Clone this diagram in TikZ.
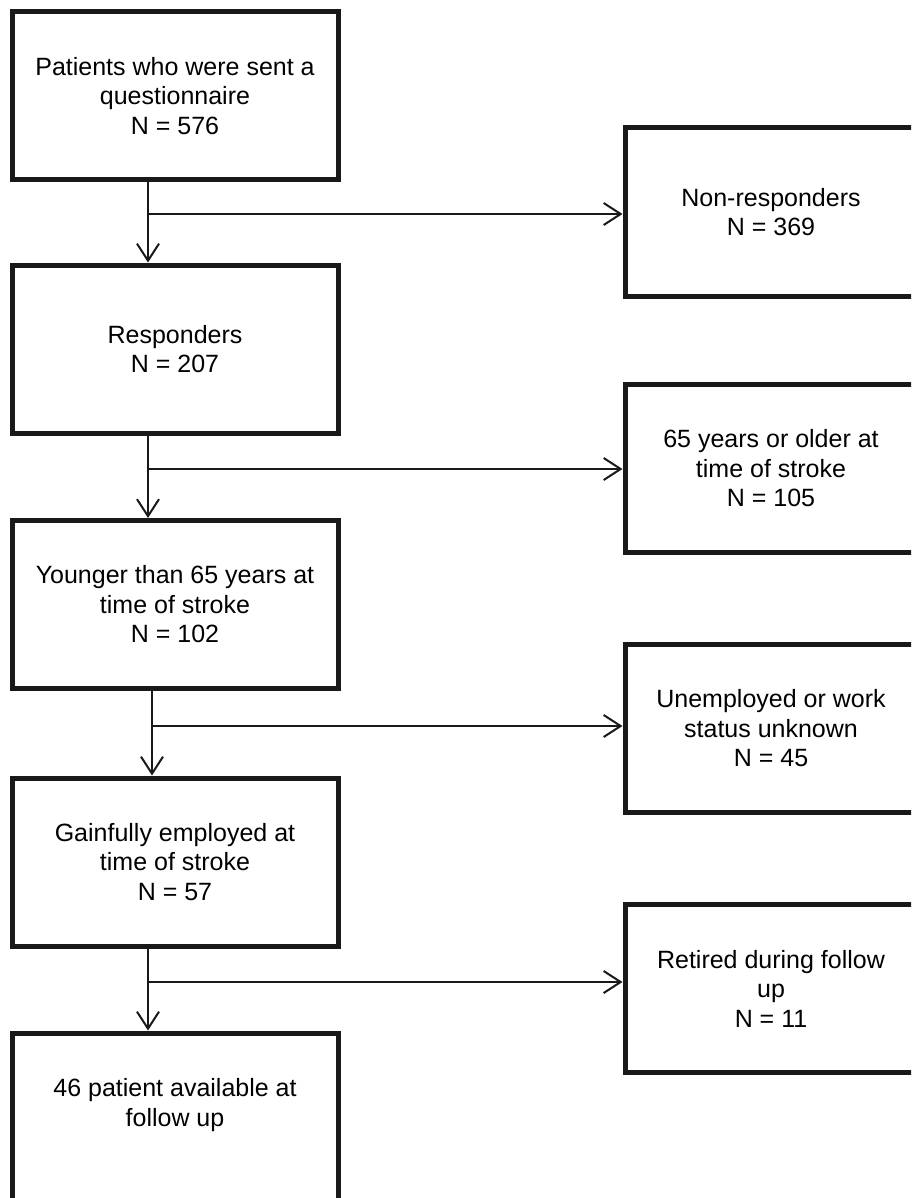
\documentclass[tikz,border=0pt]{standalone}
\usepackage{fontspec}
\setmainfont{Liberation Sans}
\usetikzlibrary{arrows.meta}
\begin{document}
\begin{tikzpicture}[x=1pt, y=-1pt, font=\fontsize{25}{29.5}\selectfont,
  box/.style={draw=black!90, line width=5pt, align=center, minimum height=168pt, inner sep=0pt},
  leftbox/.style={box, minimum width=326pt},
  rightbox/.style={box, minimum width=292pt},
  arr/.style={draw=black!90, line width=2pt, -{Straight Barb[length=17pt,width=22pt]}}]

\useasboundingbox (0,0) rectangle (911,1198);
\clip (0,0) rectangle (911,1198);

\node[leftbox] (sent)  at (175,96)    {Patients who were sent a\\questionnaire\\N = 576};
\node[leftbox] (resp)  at (175,349)   {Responders\\N = 207};
\node[leftbox] (young) at (175,604.5) {Younger than 65 years at\\time of stroke\\N = 102};
\node[leftbox] (empl)  at (175,862)   {Gainfully employed at\\time of stroke\\N = 57};
\node[leftbox] (avail) at (175,1117)  {46 patient available at\\follow up\\\phantom{N}};

\node[rightbox] (nonresp) at (771,212)   {Non-responders\\N = 369};
\node[rightbox] (older)   at (771,468.5) {65 years or older at\\time of stroke\\N = 105};
\node[rightbox] (unempl)  at (771,728.5) {Unemployed or work\\status unknown\\N = 45};
\node[rightbox] (retired) at (771,988.5) {Retired during follow\\up\\N = 11};

\draw[arr] ([xshift=-27pt]sent.south)  -- ([xshift=-27pt]resp.north);
\draw[arr] ([xshift=-27pt]resp.south)  -- ([xshift=-27pt]young.north);
\draw[arr] ([xshift=-23pt]young.south) -- ([xshift=-23pt]empl.north);
\draw[arr] ([xshift=-27pt]empl.south)  -- ([xshift=-27pt]avail.north);

\coordinate (j1) at (148,214);
\coordinate (j2) at (148,469);
\coordinate (j3) at (152,726);
\coordinate (j4) at (148,982);
\draw[arr] (j1) -- (j1 -| nonresp.west);
\draw[arr] (j2) -- (j2 -| older.west);
\draw[arr] (j3) -- (j3 -| unempl.west);
\draw[arr] (j4) -- (j4 -| retired.west);

\end{tikzpicture}
\end{document}
